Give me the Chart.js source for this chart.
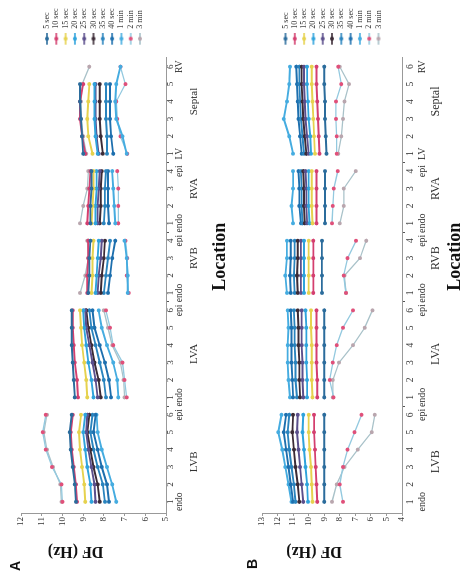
<!DOCTYPE html>
<html>
<head>
<meta charset="utf-8">
<script src="https://cdn.jsdelivr.net/npm/chart.js@4.4.1/dist/chart.umd.min.js"></script>
<style>
  html, body { margin: 0; padding: 0; background: #fff; overflow: hidden; }
  #fig { position: absolute; left: 0; top: 0; width: 574px; height: 465px; background: #fff;
         transform-origin: 0 0; transform: translate(0, 574px) rotate(-90deg); }
  #fig canvas { position: absolute; left: 0; }
  .panel { position: absolute; font: bold 14px "Liberation Sans", Arial, sans-serif; line-height: 14px; color: #111; }
</style>
</head>
<body>
<div id="fig">
  <canvas id="chartA" width="574" height="232" style="top:0"></canvas>
  <canvas id="chartB" width="574" height="233" style="top:232px"></canvas>
  <div class="panel" style="left:3px;top:8px">A</div>
  <div class="panel" style="left:5px;top:245px">B</div>
</div>
<script>
const seriesLabels = ['5 sec', '10 sec', '15 sec', '20 sec', '25 sec', '30 sec', '35 sec', '40 sec', '1 min', '2 min', '3 min'];
const groupNames = ['LVB', 'LVA', 'RVB', 'RVA', 'Septal'];
const groupSizes = [6, 6, 4, 4, 6];
const groupEnds = [['endo', 'epi'], ['endo', 'epi'], ['endo', 'epi'], ['endo', 'epi'], ['LV', 'RV']];
const groupLabelPos = [3.3, 9.5, 15, 19, 24];
const yTicksA = [5, 6, 7, 8, 9, 10, 11, 12];
const yTicksB = [4, 5, 6, 7, 8, 9, 10, 11, 12, 13];

// panel A, DF (Hz) per location: LVB 1-6, LVA 1-6, RVB 1-4, RVA 1-4, Septal 1-6
const a5s  = [9.35, 9.4, 9.5, 9.6, 9.65, 9.55,  9.4, 9.45, 9.5, 9.55, 9.55, 9.55,  8.75, 8.7, 8.7, 8.65,  8.65, 8.65, 8.6, 8.6,  9.0, 9.05, 9.1, 9.15, 9.15, null];
const a10s = [9.3, 9.35, 9.45, 9.55, 9.6, 9.5,  9.25, 9.3, 9.4, 9.45, 9.5, 9.5,  8.8, 8.8, 8.75, 8.75,  8.8, 8.75, 8.7, 8.65,  8.9, 9.05, 9.15, 9.15, 9.0, null];
const a15s = [8.9, 8.95, 9.05, 9.15, 9.2, 9.1,  8.8, 8.85, 8.95, 9.05, 9.1, 9.15,  8.6, 8.55, 8.55, 8.5,  8.6, 8.55, 8.5, 8.5,  8.55, 8.75, 8.8, 8.75, 8.7, null];
const a20s = [8.6, 8.65, 8.8, 8.9, 9.0, 8.9,  8.5, 8.6, 8.75, 8.85, 8.95, 9.0,  8.4, 8.35, 8.3, 8.25,  8.4, 8.4, 8.35, 8.35,  8.3, 8.4, 8.45, 8.45, 8.45, null];
const a25s = [8.4, 8.45, 8.6, 8.75, 8.85, 8.8,  8.3, 8.4, 8.55, 8.7, 8.85, 8.9,  8.3, 8.25, 8.15, 8.1,  8.3, 8.3, 8.25, 8.2,  8.25, 8.35, 8.4, 8.4, 8.4, null];
const a30s = [8.2, 8.3, 8.5, 8.65, 8.8, 8.7,  8.15, 8.25, 8.45, 8.6, 8.75, 8.85,  8.15, 8.1, 8.0, 7.95,  8.2, 8.15, 8.15, 8.1,  8.05, 8.15, 8.2, 8.2, 8.2, null];
const a35s = [7.95, 8.05, 8.3, 8.5, 8.65, 8.55,  7.9, 8.0, 8.2, 8.4, 8.6, 8.7,  8.0, 7.9, 7.8, 7.7,  8.0, 7.95, 7.95, 7.9,  7.85, 7.85, 7.9, 7.9, 7.9, null];
const a40s = [7.75, 7.85, 8.1, 8.3, 8.5, 8.4,  7.65, 7.75, 7.95, 8.2, 8.45, 8.55,  7.8, 7.7, 7.6, 7.45,  7.75, 7.8, 7.8, 7.8,  7.55, 7.65, 7.7, 7.7, 7.7, null];
const a1m  = [7.4, 7.6, 7.85, 8.1, 8.3, 8.35,  7.3, 7.35, 7.55, 7.85, 8.1, 8.25,  6.85, 6.85, 6.9, 7.0,  7.45, 7.5, 7.55, 7.6,  6.9, 7.1, 7.4, 7.45, 7.4, 7.2];
const a2m  = [10.0, 10.05, 10.5, 10.8, 10.95, 10.8,  6.9, 7.0, 7.1, 7.55, 7.7, 7.9,  6.8, 6.9, 6.87, 6.95,  7.3, 7.3, 7.3, 7.35,  6.87, 7.2, 7.35, 7.4, 6.96, 7.2];
const a3m  = [10.05, 10.1, 10.45, 10.75, 10.9, 10.75,  7.0, 7.05, 7.2, 7.6, 7.8, 8.0,  9.15, 8.9, 8.75, 8.8,  9.15, 9.0, 8.8, 8.75,  8.85, 9.0, 9.1, 9.1, 9.05, 8.7];

// panel B
const b5s  = [9.0, 9.0, 9.0, 9.0, 9.0, 9.0,  9.0, 9.0, 9.0, 9.0, 9.0, 9.0,  9.15, 9.15, 9.15, 9.15,  8.95, 8.95, 8.95, 8.95,  8.85, 8.9, 8.95, 8.95, 9.0, 9.0];
const b10s = [9.45, 9.5, 9.55, 9.6, 9.65, 9.65,  9.45, 9.45, 9.5, 9.5, 9.5, 9.5,  9.7, 9.7, 9.7, 9.7,  9.5, 9.5, 9.5, 9.5,  9.3, 9.35, 9.4, 9.45, 9.5, 9.5];
const b15s = [9.75, 9.8, 9.85, 9.95, 10.0, 10.0,  9.75, 9.8, 9.8, 9.8, 9.85, 9.85,  10.0, 10.0, 10.0, 10.0,  9.75, 9.8, 9.8, 9.8,  9.6, 9.65, 9.7, 9.75, 9.8, 9.8];
const b20s = [10.05, 10.1, 10.2, 10.3, 10.4, 10.35,  10.1, 10.1, 10.15, 10.15, 10.15, 10.2,  10.3, 10.3, 10.3, 10.3,  9.95, 10.0, 10.0, 10.0,  9.85, 9.9, 10.0, 10.05, 10.1, 10.1];
const b25s = [10.35, 10.45, 10.55, 10.65, 10.75, 10.7,  10.35, 10.4, 10.4, 10.45, 10.45, 10.45,  10.5, 10.5, 10.5, 10.5,  10.1, 10.15, 10.15, 10.2,  10.0, 10.1, 10.2, 10.25, 10.3, 10.3];
const b30s = [10.6, 10.7, 10.85, 10.95, 11.05, 11.0,  10.55, 10.6, 10.6, 10.65, 10.65, 10.7,  10.7, 10.75, 10.7, 10.7,  10.25, 10.3, 10.3, 10.35,  10.15, 10.25, 10.35, 10.4, 10.45, 10.45];
const b35s = [10.85, 10.95, 11.1, 11.25, 11.35, 11.25,  10.75, 10.85, 10.85, 10.9, 10.9, 10.95,  10.9, 10.95, 10.9, 10.9,  10.4, 10.45, 10.45, 10.5,  10.3, 10.4, 10.5, 10.55, 10.6, 10.6];
const b40s = [11.0, 11.15, 11.3, 11.45, 11.6, 11.45,  11.0, 11.05, 11.1, 11.1, 11.1, 11.15,  11.15, 11.2, 11.15, 11.15,  10.5, 10.6, 10.6, 10.65,  10.45, 10.55, 10.65, 10.7, 10.75, 10.8];
const b1m  = [11.1, 11.3, 11.5, 11.7, 11.95, 11.75,  11.2, 11.3, 11.35, 11.35, 11.3, 11.35,  11.4, 11.5, 11.4, 11.4,  11.0, 11.1, 11.0, 11.0,  11.0, 11.25, 11.6, 11.4, 11.25, 11.2];
const b2m  = [7.8, 8.0, 7.8, 7.5, 7.05, 6.6,  8.4, 8.65, 8.45, 8.2, 7.8, 7.15,  7.6, 7.75, 7.5, 6.95,  8.5, 8.45, 8.38, 8.13,  8.2, 8.2, 8.25, 8.25, 7.9, 8.1];
const b3m  = [8.5, 8.2, 7.7, 6.85, 5.95, 5.75,  8.45, 8.45, 8.05, 7.15, 6.4, 5.9,  7.6, 7.7, 6.7, 6.3,  8.0, 7.74, 7.74, 6.97,  8.1, 7.9, 7.8, 7.7, 7.4, 8.0];

const lineColors = ['#2b6c9c', '#d43f6f', '#e6d24e', '#2fa3dc', '#5b4f8c', '#3b2b36', '#2a84be', '#1d6fae', '#45ace0', '#93c9df', '#a9c2c9'];
const markColors = ['#2b6c9c', '#d43f6f', '#e6d24e', '#2fa3dc', '#5b4f8c', '#3b2b36', '#2a84be', '#1d6fae', '#45ace0', '#e0507a', '#b9a6ae'];
const serif = "'Liberation Serif', 'Times New Roman', serif";

// tick positions along the location axis
const numTicks = [], endTicks = [], bounds = [];
const numAt = {}, endAt = {};
let count = 0;
groupSizes.forEach((n, g) => {
  for (let k = 1; k <= n; k++) {
    numTicks.push(count + k);
    numAt[count + k] = String(k);
  }
  endTicks.push(count + 1, count + n);
  endAt[count + 1] = groupEnds[g][0];
  endAt[count + n] = groupEnds[g][1];
  count += n;
  if (g < groupSizes.length - 1) bounds.push(count + 0.5);
});

function toPoints(vals) {
  const pts = [];
  let i = 0;
  groupSizes.forEach(n => {
    for (let k = 0; k < n; k++, i++) pts.push({ x: i + 1, y: vals[i] });
    pts.push({ x: i + 0.5, y: null });  // break the line between groups
  });
  return pts;
}

// little legend sample: line with a dot, drawn in the right half
const icons = lineColors.map((c, i) => {
  const cv = document.createElement('canvas');
  cv.width = 24; cv.height = 6;
  const g = cv.getContext('2d');
  g.strokeStyle = c; g.lineWidth = 1.6;
  g.beginPath(); g.moveTo(12, 3); g.lineTo(24, 3); g.stroke();
  g.fillStyle = markColors[i];
  g.beginPath(); g.arc(18, 3, 2, 0, Math.PI * 2); g.fill();
  return cv;
});

function makeChart(id, series, yTicks, look) {
  const datasets = series.map((vals, i) => ({
    label: seriesLabels[i],
    data: toPoints(vals),
    borderColor: lineColors[i],
    backgroundColor: markColors[i],
    pointBackgroundColor: markColors[i],
    pointBorderColor: markColors[i],
    pointBorderWidth: 0,
    pointRadius: 2,
    borderWidth: i >= 9 ? 1.3 : 1.9
  }));

  const xRange = { type: 'linear', min: 0.3, max: 26.5 };

  return new Chart(document.getElementById(id), {
    type: 'line',
    data: { datasets },
    options: {
      responsive: false,
      animation: false,
      layout: { padding: { top: look.top, left: 0, right: 0, bottom: 0 } },
      plugins: {
        tooltip: { enabled: false },
        legend: {
          position: 'right', fullSize: false, align: 'center', maxWidth: 58,
          labels: {
            usePointStyle: true, pointStyleWidth: 24, padding: 1.3, color: '#333',
            font: { family: serif, size: 8 },
            generateLabels(chart) {
              const items = Chart.defaults.plugins.legend.labels.generateLabels(chart);
              items.forEach((it, i) => { it.pointStyle = icons[i]; });
              return items;
            }
          }
        }
      },
      scales: {
        x: {
          ...xRange, weight: 0,
          afterBuildTicks: s => { s.ticks = numTicks.concat(bounds).sort((a, b) => a - b).map(v => ({ value: v })); },
          afterFit: s => { s.height = look.numH; },
          ticks: {
            autoSkip: false, maxRotation: 0, minRotation: 0, padding: look.numPad, color: '#333',
            font: { family: serif, size: look.numSize, lineHeight: '8px' },
            callback: v => numAt[v] || ''
          },
          grid: {
            drawOnChartArea: false, tickLength: 3,
            color: c => (c.tick && !Number.isInteger(c.tick.value)) ? '#555' : 'rgba(0,0,0,0)'
          },
          border: { color: '#999' }
        },
        xs: {
          ...xRange, weight: 1,
          afterBuildTicks: s => { s.ticks = endTicks.map(v => ({ value: v })); },
          afterFit: s => { s.height = look.endH; },
          ticks: {
            autoSkip: false, maxRotation: 0, minRotation: 0, padding: look.endPad, color: '#333',
            font: { family: serif, size: look.endSize, lineHeight: look.endLH },
            callback: v => endAt[v] || ''
          },
          grid: { display: false, drawTicks: false },
          border: { display: false }
        },
        xg: {
          ...xRange, weight: 2,
          afterBuildTicks: s => { s.ticks = groupLabelPos.map(v => ({ value: v })); },
          afterFit: s => { s.height = look.grpH; },
          ticks: {
            autoSkip: false, maxRotation: 0, minRotation: 0, padding: look.grpPad, color: '#333',
            font: { family: serif, size: look.grpSize, lineHeight: look.grpLH },
            callback: v => groupNames[groupLabelPos.indexOf(v)] || ''
          },
          grid: { display: false, drawTicks: false },
          border: { display: false },
          title: {
            display: true, text: ' '.repeat(13) + 'Location', color: '#111',
            font: { family: serif, size: 18, weight: 'bold', lineHeight: '20px' },
            padding: { top: 0, bottom: look.locPad }
          }
        },
        y: {
          min: yTicks[0], max: yTicks[yTicks.length - 1],
          afterFit: s => { s.width = 60; },
          ticks: { stepSize: 1, padding: 1, color: '#333', font: { family: serif, size: 9 } },
          grid: { drawOnChartArea: false, tickLength: 2, color: '#999' },
          border: { color: '#999' },
          title: {
            display: true, text: ' '.repeat(9) + 'DF (Hz)', color: '#111',
            font: { family: serif, size: 16, weight: 'bold', lineHeight: '19px' },
            padding: { top: 13.5, bottom: 0 }
          }
        }
      }
    }
  });
}

makeChart('chartA', [a5s, a10s, a15s, a20s, a25s, a30s, a35s, a40s, a1m, a2m, a3m], yTicksA, {
  top: 21, numH: 9, numPad: -2, numSize: 9,
  endH: 8, endPad: 0, endSize: 9.5, endLH: '8px',
  grpH: 49, grpPad: 5, grpSize: 11, grpLH: '12px', locPad: 2
});
makeChart('chartB', [b5s, b10s, b15s, b20s, b25s, b30s, b35s, b40s, b1m, b2m, b3m], yTicksB, {
  top: 30, numH: 12, numPad: 1, numSize: 9.5,
  endH: 16, endPad: 2, endSize: 10, endLH: '12px',
  grpH: 35, grpPad: 0, grpSize: 12, grpLH: '12px', locPad: 0
});
</script>
</body>
</html>
